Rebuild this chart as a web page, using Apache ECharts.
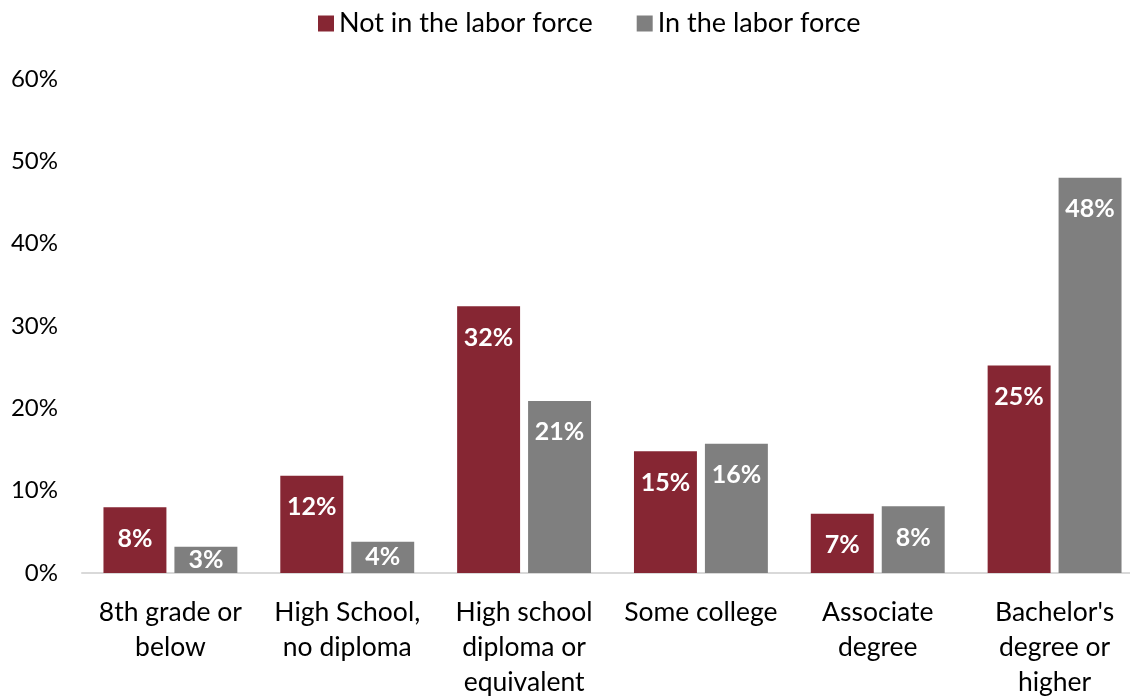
<!DOCTYPE html>
<html><head><meta charset="utf-8">
<script src="https://cdn.jsdelivr.net/npm/echarts@6/dist/echarts.min.js"></script>
<style>html,body{margin:0;padding:0;background:#fff}#c{width:1130px;height:698px}</style>
</head><body><div id="c"></div>
<script>
const categories = ["8th grade or\nbelow", "High School,\nno diploma", "High school\ndiploma or\nequivalent", "Some college", "Associate\ndegree", "Bachelor's\ndegree or\nhigher"];
const notInLaborForce = [8.0, 11.8, 32.4, 14.8, 7.2, 25.2];
const inLaborForce = [3.2, 3.8, 20.9, 15.7, 8.1, 48.0];
const seriesNames = ["Not in the labor force", "In the labor force"];
const FONT = "Lato";

function mk(vals) {
  return vals.map(v => ({
    value: v,
    label: v < 6 ? { position: 'inside' } : { position: 'insideTop', distance: 19 }
  }));
}
const chart = echarts.init(document.getElementById('c'), null, {renderer: 'canvas'});
const lbl = {show: true, color: '#fff', fontFamily: FONT, fontWeight: 'bold', fontSize: 25,
  formatter: p => Math.round(p.value) + '%'};
chart.setOption({
  animation: false,
  textStyle: {fontFamily: FONT},
  legend: {top: 5, left: 313, itemWidth: 16, itemHeight: 16, itemGap: 44,
    icon: 'rect', textStyle: {fontSize: 27, color: '#000', fontFamily: FONT}},
  grid: {left: 82, width: 1061, top: 79, bottom: 125, containLabel: false, outerBoundsMode: 'none'},
  xAxis: {type: 'category', data: categories,
    axisLine: {lineStyle: {color: '#D9D9D9', width: 2}}, axisTick: {show: false},
    axisLabel: {fontSize: 26.5, color: '#000', lineHeight: 35, margin: 22, fontFamily: FONT, interval: 0}},
  yAxis: {type: 'value', min: 0, max: 60, interval: 10,
    splitLine: {show: false}, axisLine: {show: false}, axisTick: {show: false},
    axisLabel: {fontSize: 24, color: '#000', margin: 24, fontFamily: FONT, formatter: v => v + '%'}},
  series: [
    {name: seriesNames[0], type: 'bar', data: mk(notInLaborForce), barWidth: '35.6%', barGap: '12.7%',
      itemStyle: {color: '#862633'}, label: lbl},
    {name: seriesNames[1], type: 'bar', data: mk(inLaborForce), barWidth: '35.6%', barGap: '12.7%',
      itemStyle: {color: '#7F7F7F'}, label: lbl}
  ]
});
</script></body></html>
